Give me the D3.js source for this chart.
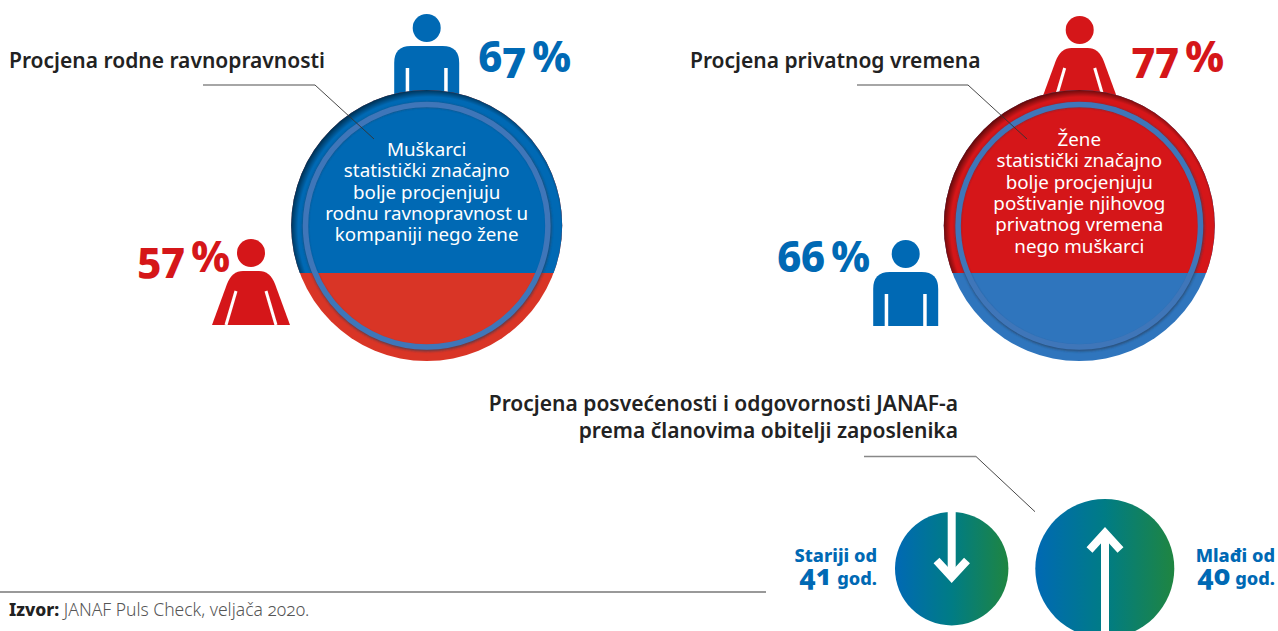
<!DOCTYPE html>
<html>
<head>
<meta charset="utf-8">
<script src="https://cdn.jsdelivr.net/npm/d3@7"></script>
<style>
    html, body { margin: 0; padding: 0; background: #fff; }
    svg { display: block; }
    text { font-family: "Noto Sans", sans-serif; font-variant-numeric: oldstyle-nums; }
</style>
</head>
<body>
<svg id="chart" width="1278" height="631"></svg>
<script>
// values
const panelTitles = ["Procjena rodne ravnopravnosti", "Procjena privatnog vremena"];
const topPercents = [67, 77];
const sidePercents = [57, 66];
const topShare = [0.675, 0.675];  // part of each disc taken by the top colour
const panelNotes = [
    ["Muškarci", "statistički značajno", "bolje procjenjuju", "rodnu ravnopravnost u", "kompaniji nego žene"],
    ["Žene", "statistički značajno", "bolje procjenjuju", "poštivanje njihovog", "privatnog vremena", "nego muškarci"]
];
const bottomTitle = ["Procjena posvećenosti i odgovornosti JANAF-a", "prema članovima obitelji zaposlenika"];
const ageLabels = ["Stariji od", "Mlađi od"];
const ageYears = [41, 40];
const sourceLabel = "Izvor:";
const sourceText = " JANAF Puls Check, veljača 2020.";

const BLUE = "#0069b4", RED = "#d51619", RED2 = "#d93526", BLUE2 = "#2f75bd";

const svg = d3.select("#chart");
const defs = svg.append("defs");

const grad = defs.append("linearGradient").attr("id", "ageGrad");
grad.append("stop").attr("offset", "0%").attr("stop-color", "#0069b4");
grad.append("stop").attr("offset", "50%").attr("stop-color", "#007c85");
grad.append("stop").attr("offset", "100%").attr("stop-color", "#1f8541");

const edge = defs.append("radialGradient").attr("id", "edgeShade")
    .attr("cx", "51%").attr("cy", "51%").attr("r", "51%");
edge.append("stop").attr("offset", "95%").attr("stop-color", "#000").attr("stop-opacity", 0);
edge.append("stop").attr("offset", "100%").attr("stop-color", "#000").attr("stop-opacity", 0.5);

defs.append("filter").attr("id", "soft").append("feGaussianBlur").attr("stdDeviation", 0.8);

function man(g, cx, top) {
    const p = d3.path();
    p.moveTo(cx - 32.5, top + 54);
    p.lineTo(cx - 32.5, top + 17);
    p.quadraticCurveTo(cx - 32.5, top, cx - 16, top);
    p.lineTo(cx + 16, top);
    p.quadraticCurveTo(cx + 32.5, top, cx + 32.5, top + 17);
    p.lineTo(cx + 32.5, top + 54);
    p.closePath();
    g.append("circle").attr("cx", cx).attr("cy", top - 18).attr("r", 14).attr("fill", BLUE);
    g.append("path").attr("d", p.toString()).attr("fill", BLUE);
    [-21, 17.5].forEach(dx => {
        g.append("rect").attr("x", cx + dx).attr("y", top + 22)
            .attr("width", 3.5).attr("height", 32).attr("fill", "#fff");
    });
}

function woman(g, cx, top) {
    const p = d3.path();
    p.moveTo(cx - 39, top + 54);
    p.lineTo(cx - 24, top + 13);
    p.quadraticCurveTo(cx - 19, top, cx - 8, top);
    p.lineTo(cx + 8, top);
    p.quadraticCurveTo(cx + 19, top, cx + 24, top + 13);
    p.lineTo(cx + 39, top + 54);
    p.closePath();
    g.append("circle").attr("cx", cx).attr("cy", top - 18).attr("r", 14).attr("fill", RED);
    g.append("path").attr("d", p.toString()).attr("fill", RED);
    [[-15, -25], [15, 25]].forEach(d => {
        g.append("line")
            .attr("x1", cx + d[0]).attr("y1", top + 20)
            .attr("x2", cx + d[1]).attr("y2", top + 54)
            .attr("stroke", "#fff").attr("stroke-width", 3);
    });
}

function disc(i, cx, cy, colTop, colBottom) {
    const r = 135.5;
    const g = svg.append("g");
    const y = d3.scaleLinear().domain([0, 1]).range([cy - r, cy + r]);
    const split = y(topShare[i]);
    const clipId = "clip" + i;
    defs.append("clipPath").attr("id", clipId).append("rect")
        .attr("x", cx - r - 2).attr("y", cy - r - 2).attr("width", 2 * r + 4).attr("height", split - cy + r + 2);
    g.append("circle").attr("cx", cx).attr("cy", cy).attr("r", r).attr("fill", colBottom);
    g.append("circle").attr("cx", cx).attr("cy", cy).attr("r", r).attr("fill", colTop).attr("clip-path", `url(#${clipId})`);
    g.append("circle").attr("cx", cx).attr("cy", cy).attr("r", r).attr("fill", "url(#edgeShade)").attr("clip-path", `url(#${clipId})`);
    // ring with its small shadow
    g.append("circle").attr("cx", cx + 0.5).attr("cy", cy + 1.2).attr("r", 122).attr("fill", "none")
        .attr("stroke", "#2a3a55").attr("stroke-opacity", 0.6).attr("stroke-width", 5.5).attr("filter", "url(#soft)");
    g.append("circle").attr("cx", cx).attr("cy", cy + 0.3).attr("r", 121.2).attr("fill", "none")
        .attr("stroke", "#3f76b9").attr("stroke-width", 5.5);
}

function percent(x, y, value, color) {
    svg.append("text").attr("x", x).attr("y", y)
        .attr("font-size", 42).attr("font-weight", 800).attr("fill", color)
        .attr("letter-spacing", -1.2).attr("word-spacing", -3)
        .text(value + " %");
}

function leader(x0, x1, y0, x2, y2) {
    svg.append("line").attr("x1", x0).attr("x2", x1).attr("y1", y0).attr("y2", y0)
        .attr("stroke", "#888").attr("stroke-width", 1.4);
    svg.append("line").attr("x1", x1).attr("y1", y0).attr("x2", x2).attr("y2", y2)
        .attr("stroke", "#333").attr("stroke-width", 0.9);
}

// icons go first, discs cover their feet
man(svg, 426.7, 46);
woman(svg, 1079.7, 48);
man(svg, 905.7, 272);
woman(svg, 251, 271);

disc(0, 426.7, 225.5, BLUE, RED2);
disc(1, 1079.3, 225.5, RED, BLUE2);

percent(478, 72, topPercents[0], BLUE);
percent(1131, 72, topPercents[1], RED);
percent(137, 272, sidePercents[0], RED);
percent(777, 272, sidePercents[1], BLUE);

const titleStyle = s => s.attr("font-size", 21).attr("font-weight", 600).attr("fill", "#222");
svg.append("text").attr("x", 9).attr("y", 67.5).call(titleStyle).text(panelTitles[0]);
svg.append("text").attr("x", 690).attr("y", 67.5).call(titleStyle).text(panelTitles[1]);
bottomTitle.forEach((t, i) => {
    svg.append("text").attr("x", 958).attr("y", 411 + i * 26.5).attr("text-anchor", "end").call(titleStyle).text(t);
});

leader(203, 315, 85, 374, 139);
leader(857, 968, 85, 1027, 139);
leader(864, 976, 456.5, 1035, 511.7);

panelNotes.forEach((lines, i) => {
    const cx = i === 0 ? 426.7 : 1079.3;
    const y0 = i === 0 ? 156 : 146;
    lines.forEach((t, j) => {
        svg.append("text").attr("x", cx).attr("y", y0 + j * 21.3)
            .attr("text-anchor", "middle").attr("font-size", 18.8).attr("fill", "#fff").text(t);
    });
});

// age circles
svg.append("circle").attr("cx", 951.7).attr("cy", 568.7).attr("r", 56.7).attr("fill", "url(#ageGrad)");
svg.append("circle").attr("cx", 1104.8).attr("cy", 568.5).attr("r", 69.5).attr("fill", "url(#ageGrad)");

const line = d3.line();
const arrowStyle = s => s.attr("fill", "none").attr("stroke", "#fff").attr("stroke-width", 8);
svg.append("path").attr("d", line([[951.7, 512], [951.7, 577]])).call(arrowStyle);
svg.append("path").attr("d", line([[936.5, 560.5], [951.7, 577], [967, 560.5]])).call(arrowStyle);
svg.append("path").attr("d", line([[1105, 631], [1105, 533]])).call(arrowStyle);
svg.append("path").attr("d", line([[1089.5, 550], [1105, 533], [1120.5, 550]])).call(arrowStyle);

function ageLabel(x, label, year) {
    svg.append("text").attr("x", x).attr("y", 562).attr("text-anchor", "end")
        .attr("font-size", 18.2).attr("font-weight", 800).attr("fill", BLUE).text(label);
    const t = svg.append("text").attr("x", x).attr("y", 585).attr("text-anchor", "end")
        .attr("font-weight", 800).attr("fill", BLUE);
    t.append("tspan").attr("font-size", 28).text(year);
    t.append("tspan").attr("font-size", 18.2).text(" god.");
}
ageLabel(877, ageLabels[0], ageYears[0]);
ageLabel(1275, ageLabels[1], ageYears[1]);

// source line
svg.append("line").attr("x1", 0).attr("x2", 766).attr("y1", 592).attr("y2", 592)
    .attr("stroke", "#777").attr("stroke-width", 1.4);
const src = svg.append("text").attr("x", 9).attr("y", 616).attr("font-size", 17.5).attr("fill", "#555");
src.append("tspan").attr("font-weight", 800).attr("fill", "#222").text(sourceLabel);
src.append("tspan").attr("font-weight", 300).text(sourceText);
</script>
</body>
</html>
